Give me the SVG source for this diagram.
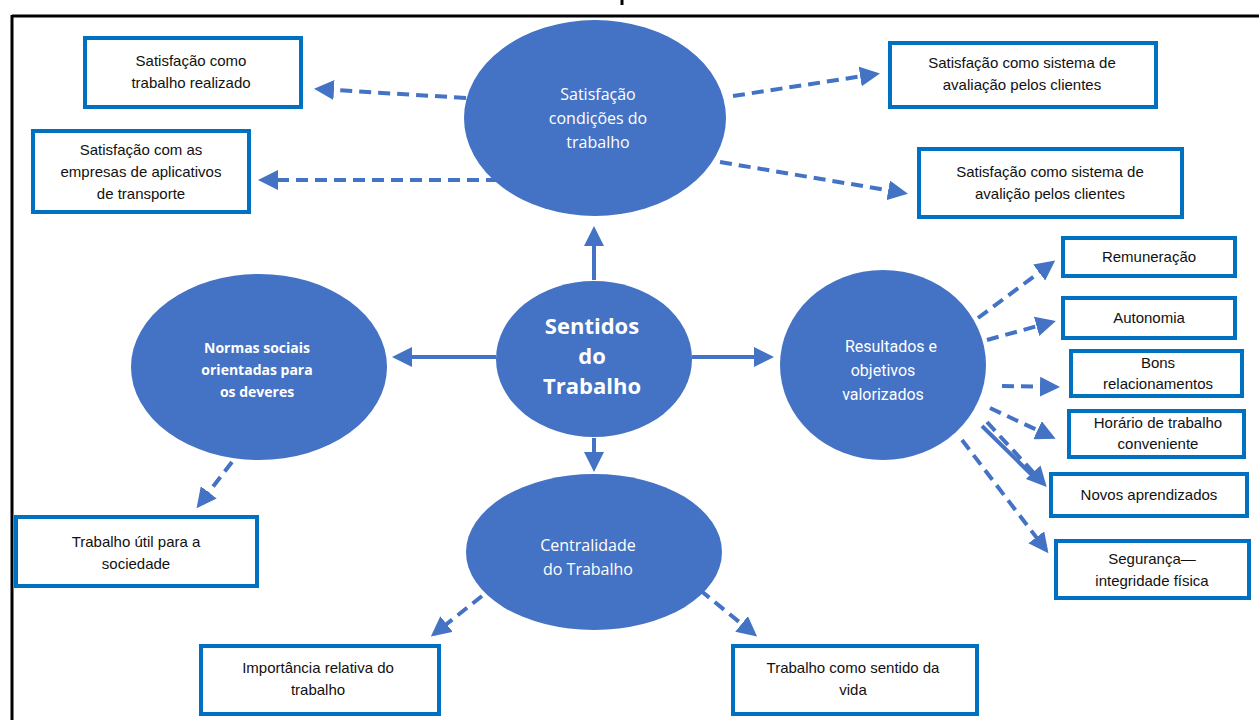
<svg xmlns="http://www.w3.org/2000/svg" width="1259" height="720" viewBox="0 0 1259 720">
<style>
.ell{fill:#4472C4;}
.box{fill:#fff;stroke:#0070C0;stroke-width:4;}
.bt{font-family:"Liberation Sans",Arial,sans-serif;font-size:15px;fill:#111;text-anchor:middle;}
.et{font-family:"Open Sans","DejaVu Sans",sans-serif;font-size:16px;fill:#fff;text-anchor:middle;}
.eb{font-family:"Open Sans","DejaVu Sans",sans-serif;font-size:22px;font-weight:bold;fill:#fff;text-anchor:middle;}
.sol{stroke:#4472C4;stroke-width:4;fill:none;}
.dash{stroke:#4472C4;stroke-width:4;fill:none;stroke-dasharray:12,7;}
</style>
<defs>
<marker id="ah" markerWidth="5" markerHeight="5" refX="4" refY="2.5" orient="auto" markerUnits="strokeWidth">
<path d="M0,0 L5,2.5 L0,5 Z" fill="#4472C4"/>
</marker>
</defs>
<rect width="1259" height="720" fill="#fff"/>
<g id="frame">
<line x1="12" y1="16" x2="1259" y2="16" stroke="#000" stroke-width="3"/>
<line x1="12" y1="15" x2="12" y2="720" stroke="#000" stroke-width="3"/>
<line x1="622" y1="0" x2="622" y2="5" stroke="#000" stroke-width="3"/>
</g>
<g id="connectors">
<line class="sol" x1="594" y1="280" x2="594" y2="230" marker-end="url(#ah)"/>
<line class="sol" x1="496" y1="357" x2="396" y2="357" marker-end="url(#ah)"/>
<line class="sol" x1="692" y1="357" x2="770" y2="357" marker-end="url(#ah)"/>
<line class="sol" x1="594" y1="438" x2="594" y2="468" marker-end="url(#ah)"/>
<line class="dash" x1="466" y1="98" x2="318" y2="89" marker-end="url(#ah)"/>
<line class="dash" x1="498" y1="180" x2="262" y2="180" marker-end="url(#ah)"/>
<line class="dash" x1="733" y1="96" x2="876" y2="74" marker-end="url(#ah)"/>
<line class="dash" x1="720" y1="162" x2="904" y2="193" marker-end="url(#ah)"/>
<line class="dash" x1="232" y1="462" x2="199" y2="505" marker-end="url(#ah)"/>
<line class="dash" x1="482" y1="596" x2="434" y2="634" marker-end="url(#ah)"/>
<line class="dash" x1="700" y1="590" x2="754" y2="634" marker-end="url(#ah)"/>
<line class="dash" x1="978" y1="318" x2="1052" y2="263" marker-end="url(#ah)"/>
<line class="dash" x1="987" y1="340" x2="1052" y2="322" marker-end="url(#ah)"/>
<line class="dash" x1="1002" y1="386" x2="1056" y2="387" marker-end="url(#ah)"/>
<line class="dash" x1="990" y1="408" x2="1052" y2="437" marker-end="url(#ah)"/>
<line class="sol" x1="982" y1="426" x2="1035" y2="478" stroke-width="2.5"/>
<line class="dash" x1="987" y1="422" x2="1044" y2="484" marker-end="url(#ah)"/>
<line class="dash" x1="962" y1="440" x2="1046" y2="550" marker-end="url(#ah)"/>
</g>
<g id="n-satisf">
<ellipse class="ell" cx="595" cy="118" rx="131" ry="98"/>
<text class="et" x="598" y="100">Satisfação</text>
<text class="et" x="598" y="124">condições do</text>
<text class="et" x="598" y="148">trabalho</text>
</g>
<g id="n-sentidos">
<ellipse class="ell" cx="594" cy="359" rx="98" ry="78"/>
<text class="eb" x="592" y="334">Sentidos</text>
<text class="eb" x="592" y="364">do</text>
<text class="eb" x="592" y="394">Trabalho</text>
</g>
<g id="n-normas">
<ellipse class="ell" cx="259" cy="367" rx="128" ry="93"/>
<text class="et" x="257" y="353" font-size="14" font-weight="bold" style="font-size:14px;font-weight:bold">Normas sociais</text>
<text class="et" x="257" y="375" style="font-size:14px;font-weight:bold">orientadas para</text>
<text class="et" x="257" y="397" style="font-size:14px;font-weight:bold">os deveres</text>
</g>
<g id="n-resultados">
<ellipse class="ell" cx="883" cy="365" rx="103" ry="95"/>
<text class="et" x="891" y="352" style="font-family:Roboto,sans-serif">Resultados  e</text>
<text class="et" x="883" y="376" style="font-family:Roboto,sans-serif">objetivos</text>
<text class="et" x="883" y="400" style="font-family:Roboto,sans-serif">valorizados</text>
</g>
<g id="n-centralidade">
<ellipse class="ell" cx="594" cy="552" rx="128" ry="78"/>
<text class="et" x="588" y="551">Centralidade</text>
<text class="et" x="588" y="575">do Trabalho</text>
</g>
<g id="b-realizado">
<rect class="box" x="85" y="38" width="216" height="69"/>
<text class="bt" x="191" y="66">Satisfação como</text>
<text class="bt" x="191" y="88">trabalho realizado</text>
</g>
<g id="b-empresas">
<rect class="box" x="33" y="131" width="216" height="81"/>
<text class="bt" x="141" y="155">Satisfação com as</text>
<text class="bt" x="141" y="177">empresas de aplicativos</text>
<text class="bt" x="141" y="199">de transporte</text>
</g>
<g id="b-clientes1">
<rect class="box" x="890" y="43" width="266" height="64"/>
<text class="bt" x="1022" y="68">Satisfação como sistema de</text>
<text class="bt" x="1022" y="90">avaliação pelos clientes</text>
</g>
<g id="b-clientes2">
<rect class="box" x="919" y="149" width="263" height="68"/>
<text class="bt" x="1050" y="177">Satisfação como sistema de</text>
<text class="bt" x="1050" y="199">avalição pelos clientes</text>
</g>
<g id="b-remun">
<rect class="box" x="1063" y="238" width="172" height="38"/>
<text class="bt" x="1149" y="262">Remuneração</text>
</g>
<g id="b-autonomia">
<rect class="box" x="1063" y="298" width="172" height="40"/>
<text class="bt" x="1149" y="323">Autonomia</text>
</g>
<g id="b-bons">
<rect class="box" x="1071" y="351" width="171" height="45"/>
<text class="bt" x="1158" y="368">Bons</text>
<text class="bt" x="1158" y="389">relacionamentos</text>
</g>
<g id="b-horario">
<rect class="box" x="1069" y="411" width="175" height="46"/>
<text class="bt" x="1158" y="428">Horário de trabalho</text>
<text class="bt" x="1158" y="449">conveniente</text>
</g>
<g id="b-novos">
<rect class="box" x="1051" y="474" width="196" height="42"/>
<text class="bt" x="1149" y="500">Novos aprendizados</text>
</g>
<g id="b-seguranca">
<rect class="box" x="1056" y="541" width="193" height="57"/>
<text class="bt" x="1152" y="564">Segurança—</text>
<text class="bt" x="1152" y="586">integridade física</text>
</g>
<g id="b-util">
<rect class="box" x="16" y="517" width="241" height="69"/>
<text class="bt" x="136" y="547">Trabalho útil para a</text>
<text class="bt" x="136" y="569">sociedade</text>
</g>
<g id="b-importancia">
<rect class="box" x="201" y="646" width="238" height="68"/>
<text class="bt" x="318" y="673">Importância relativa do</text>
<text class="bt" x="318" y="695">trabalho</text>
</g>
<g id="b-sentido">
<rect class="box" x="733" y="646" width="244" height="68"/>
<text class="bt" x="853" y="673">Trabalho como sentido da</text>
<text class="bt" x="853" y="695">vida</text>
</g>
</svg>
